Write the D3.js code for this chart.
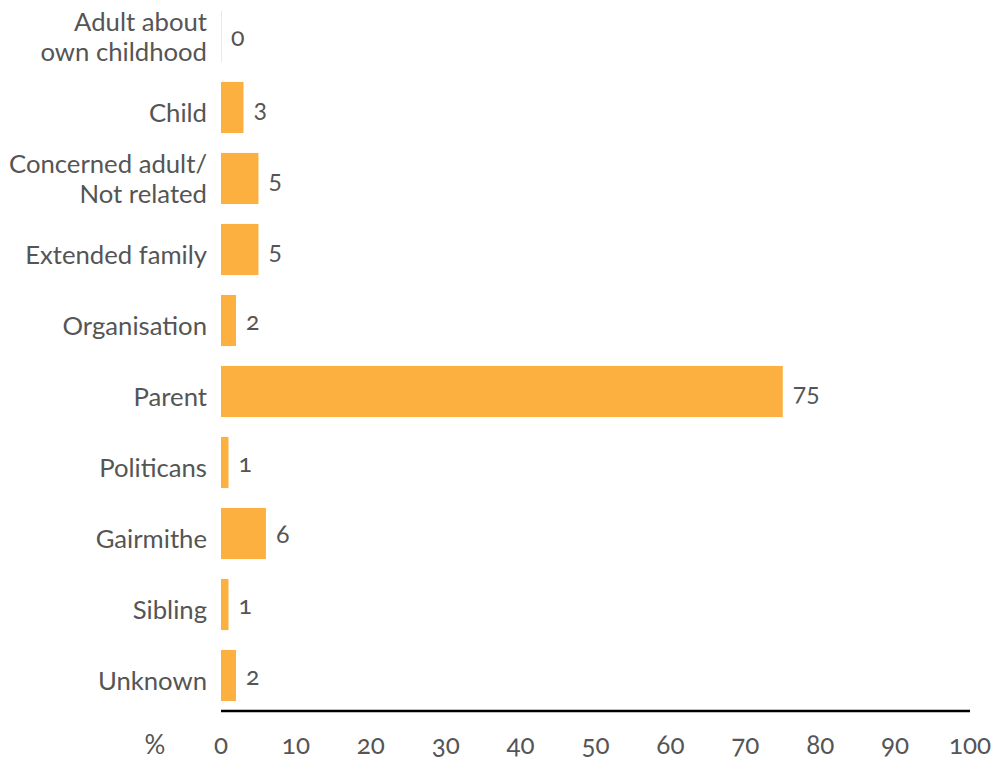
<!DOCTYPE html>
<html lang="en">
<head>
<meta charset="UTF-8">
<title>Who made contact</title>
<script src="https://d3js.org/d3.v7.min.js"></script>
<style>
    body { margin: 0; background: #fff; font-family: Lato, "Open Sans", sans-serif; }
    text { font-feature-settings: "onum" 1; font-variant-numeric: oldstyle-nums; }
</style>
</head>
<body>
<div id="chart"></div>
<script>
    const categories = [
        ["Adult about", "own childhood"],
        ["Child"],
        ["Concerned adult/", "Not related"],
        ["Extended family"],
        ["Organisation"],
        ["Parent"],
        ["Politicans"],
        ["Gairmithe"],
        ["Sibling"],
        ["Unknown"]
    ];
    const values = [0, 3, 5, 5, 2, 75, 1, 6, 1, 2];
    const xTicks = [0, 10, 20, 30, 40, 50, 60, 70, 80, 90, 100];

    const W = 1000, H = 760;
    const plotLeft = 221, plotRight = 970, plotTop = 1, axisY = 711;

    const svg = d3.select("#chart").append("svg")
        .attr("width", W).attr("height", H);

    const x = d3.scaleLinear().domain([0, 100]).range([plotLeft, plotRight]);
    const y = d3.scaleBand()
        .domain(d3.range(categories.length))
        .range([plotTop, axisY])
        .paddingInner(0.28)
        .paddingOuter(0.14);

    const rows = svg.selectAll(".row")
        .data(values)
        .enter().append("g")
        .attr("class", "row");

    // bars
    rows.append("rect")
        .attr("x", x(0))
        .attr("y", (d, i) => y(i))
        .attr("width", d => Math.max(x(d) - x(0), 1))
        .attr("height", y.bandwidth())
        .attr("fill", d => d === 0 ? "#fbe6c8" : "#fbb040");

    // value labels
    rows.append("text")
        .attr("x", d => x(d) + 10)
        .attr("y", (d, i) => y(i) + y.bandwidth() / 2 + 1)
        .attr("dy", "0.35em")
        .attr("fill", "#555")
        .style("font-size", "25px")
        .text(d => d);

    // category labels
    rows.append("text")
        .attr("x", plotLeft - 14)
        .attr("y", (d, i) => y(i) + y.bandwidth() / 2)
        .attr("text-anchor", "end")
        .attr("fill", "#555")
        .style("font-size", "25.7px")
        .each(function(d, i) {
            const lines = categories[i];
            const t = d3.select(this);
            lines.forEach((l, j) => {
                t.append("tspan")
                    .attr("x", plotLeft - 14)
                    .attr("dy", j === 0 ? (0.58 - (lines.length - 1) * 0.78) + "em" : "1.15em")
                    .text(l);
            });
        });

    // x axis
    svg.append("line")
        .attr("x1", x(0)).attr("x2", x(100))
        .attr("y1", axisY).attr("y2", axisY)
        .attr("stroke", "#000").attr("stroke-width", 2.5);

    svg.selectAll(".tick")
        .data(xTicks)
        .enter().append("text")
        .attr("class", "tick")
        .attr("x", d => x(d))
        .attr("y", 745)
        .attr("dy", "0.35em")
        .attr("text-anchor", "middle")
        .attr("fill", "#555")
        .style("font-size", "26px")
        .text(d => d);

    svg.append("text")
        .attr("x", 155).attr("y", 745)
        .attr("dy", "0.35em")
        .attr("text-anchor", "middle")
        .attr("fill", "#555")
        .style("font-size", "26px")
        .text("%");
</script>
</body>
</html>
